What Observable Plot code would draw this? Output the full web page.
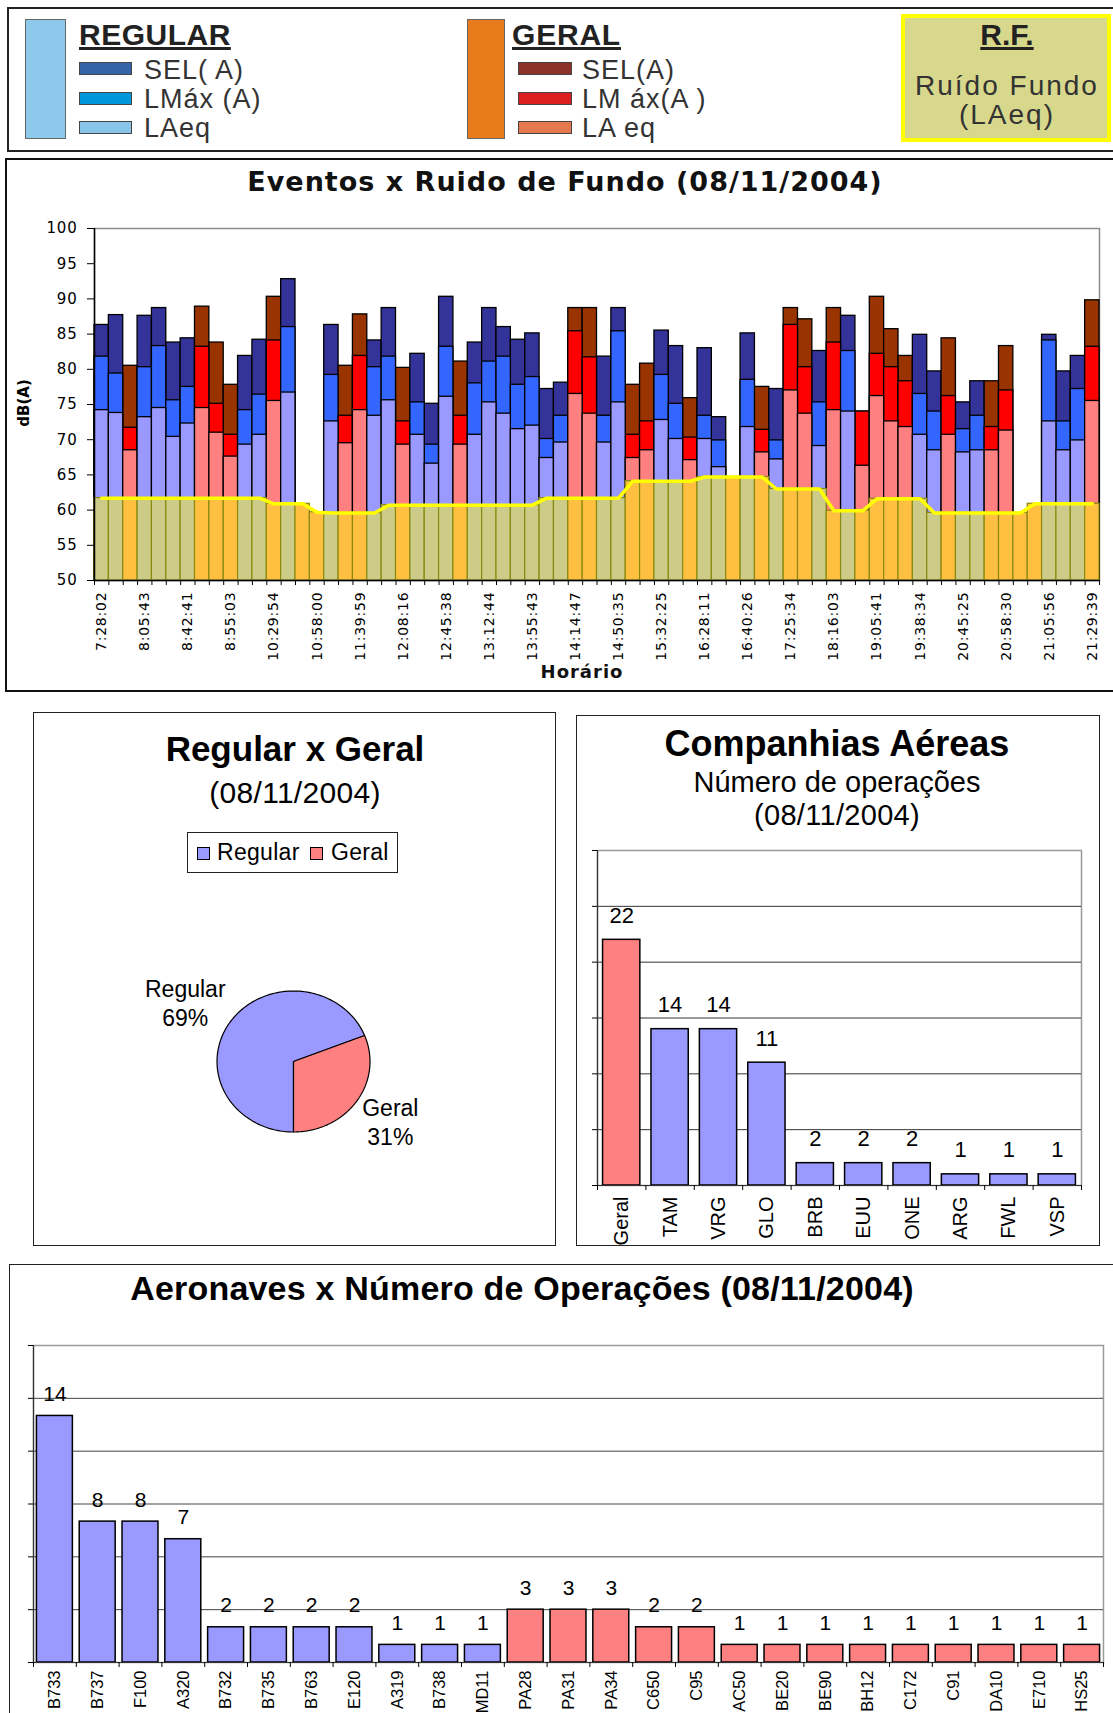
<!DOCTYPE html>
<html><head><meta charset="utf-8">
<script src="https://cdn.jsdelivr.net/npm/d3@7"></script>
<script src="https://cdn.jsdelivr.net/npm/@observablehq/plot@0.6"></script>
<style>
html,body{margin:0;padding:0;background:#fff;width:1113px;height:1713px;overflow:hidden;}
body{position:relative;font-family:"Liberation Sans",Arial,sans-serif;}
.holder{position:absolute;}
.holder svg{max-width:none !important;}
</style></head><body>
<script>
// ---------------- DATA ----------------
// Eventos x Ruido de Fundo (70 eventos; R = Regular, G = Geral)
const eventType = ["R","R","G","R","R","R","R","G","G","G","R","R","G","R","G","G","R","G","G","R",
                   "R","G","R","R","R","G","R","R","R","R","R","R","R","G","G","R","R","G","G","R",
                   "R","G","R","R","G","R","G","R","G","G","R","G","R","G","G","G","G","R","R","G",
                   "R","R","G","G","G","G","R","R","R","G"];
const selA  = [86.3,87.7,80.5,87.6,88.7,83.8,84.4,88.9,83.8,77.8,81.9,84.2,90.3,92.8,null,null,86.3,80.5,87.8,84.1,
               88.7,80.2,82.2,75.1,90.3,81.1,83.8,88.7,86.0,84.2,85.1,77.2,78.1,88.7,88.7,81.8,88.7,77.8,80.8,85.5,
               83.3,75.9,83.0,73.2,null,85.1,77.5,77.2,88.7,87.1,82.6,88.7,87.6,74.0,90.3,85.7,81.9,84.9,79.7,84.4,
               75.3,78.3,78.3,83.3,null,null,84.9,79.7,81.9,89.8];
const lmaxA = [81.8,79.4,71.7,80.3,83.3,75.6,77.5,83.2,75.1,70.7,74.2,76.4,84.1,86.0,null,null,79.2,73.4,81.9,80.3,
               81.8,72.6,75.3,69.3,83.2,73.4,78.0,81.1,81.8,77.8,78.9,70.1,73.4,85.4,81.7,73.4,85.4,70.7,72.6,79.2,
               75.1,70.3,73.4,69.9,null,78.5,71.4,69.9,86.3,80.3,75.3,83.8,82.6,74.0,82.2,80.3,78.3,76.5,74.0,76.2,
               71.5,73.4,71.8,77.0,null,null,84.1,72.6,77.2,83.2];
const laeqA = [74.2,73.8,68.5,73.2,74.5,70.4,72.3,74.5,71.0,67.6,69.3,70.7,75.5,76.7,null,null,72.6,69.5,74.2,73.4,
               75.6,69.3,70.7,66.6,76.1,69.3,70.7,75.3,73.7,71.5,72.0,67.4,69.6,76.5,73.7,69.6,75.3,67.4,68.5,72.8,
               70.1,67.1,70.1,66.1,null,71.8,68.2,67.2,77.0,73.7,69.1,74.2,74.0,66.3,76.2,72.6,71.8,70.7,68.5,70.7,
               68.2,68.5,68.5,71.3,null,null,72.6,68.5,69.9,75.5];
const ruidoFundo = [61.7,61.7,61.7,61.7,61.7,61.7,61.7,61.7,61.7,61.7,61.7,61.7,60.9,60.9,60.9,59.7,59.6,59.6,59.6,59.6,
                    60.7,60.7,60.7,60.7,60.7,60.7,60.7,60.7,60.7,60.7,60.7,61.7,61.7,61.7,61.7,61.7,61.7,64.1,64.1,64.1,
                    64.1,64.1,64.7,64.7,64.7,64.7,64.7,63.0,63.0,63.0,63.0,59.9,59.9,59.9,61.6,61.6,61.6,61.6,59.6,59.6,
                    59.6,59.6,59.6,59.6,59.6,60.9,60.9,60.9,60.9,60.9];
const horarioLabels = ["7:28:02","8:05:43","8:42:41","8:55:03","10:29:54","10:58:00","11:39:59","12:08:16",
                       "12:45:38","13:12:44","13:55:43","14:14:47","14:50:35","15:32:25","16:28:11","16:40:26",
                       "17:25:34","18:16:03","19:05:41","19:38:34","20:45:25","20:58:30","21:05:56","21:29:39"];
const yTicksMain = [50,55,60,65,70,75,80,85,90,95,100];

// Regular x Geral
const pieLabels = ["Regular","Geral"];
const pieValues = [69,31];

// Companhias Aéreas
const companhias = ["Geral","TAM","VRG","GLO","BRB","EUU","ONE","ARG","FWL","VSP"];
const companhiasOps = [22,14,14,11,2,2,2,1,1,1];
const companhiasTipo = ["Geral","Regular","Regular","Regular","Regular","Regular","Regular","Regular","Regular","Regular"];
const compGrid = [5,10,15,20,25];

// Aeronaves
const aeronaves = ["B733","B737","F100","A320","B732","B735","B763","E120","A319","B738","MD11","PA28","PA31","PA34",
                   "C650","C95","AC50","BE20","BE90","BH12","C172","C91","DA10","E710","HS25"];
const aeronavesOps = [14,8,8,7,2,2,2,2,1,1,1,3,3,3,2,2,1,1,1,1,1,1,1,1,1];
const aeronavesTipo = ["Regular","Regular","Regular","Regular","Regular","Regular","Regular","Regular","Regular","Regular","Regular",
                       "Geral","Geral","Geral","Geral","Geral","Geral","Geral","Geral","Geral","Geral","Geral","Geral","Geral","Geral"];
const aeroGrid = [3,6,9,12,15];

// ---------------- STYLE ----------------
const colReg = {sel:"#333399", lmax:"#3366ff", laeq:"#9999ff", bg:"#cccc88"};
const colGer = {sel:"#993300", lmax:"#ff0000", laeq:"#ff8080", bg:"#ffbf40"};
const LIB = '"Liberation Sans", Arial, sans-serif';
const DJV = '"DejaVu Sans", Verdana, sans-serif';

// ---------------- HELPERS ----------------
function box(left, top, w, h, css) {
  const d = document.createElement("div");
  Object.assign(d.style, {position:"absolute", left:left+"px", top:top+"px", width:w+"px", height:h+"px", boxSizing:"border-box"}, css||{});
  document.body.appendChild(d);
  return d;
}
function txt(s, o) {
  const d = document.createElement("div");
  d.textContent = s;
  const size = o.size;
  Object.assign(d.style, {
    position:"absolute", whiteSpace:"pre", lineHeight:"1", fontSize:size+"px",
    fontFamily:o.family||LIB, fontWeight:o.weight||"normal", letterSpacing:(o.ls||0)+"px",
    color:o.color||"#000", top:(o.y - 0.846*size)+"px"
  });
  if (o.underline) { d.style.textDecoration = "underline"; d.style.textDecorationThickness = (o.ut||2)+"px"; d.style.textUnderlineOffset = "2px"; }
  if (o.cx != null) { d.style.left = (o.cx - 500)+"px"; d.style.width = "1000px"; d.style.textAlign = "center"; }
  else d.style.left = o.x+"px";
  document.body.appendChild(d);
  return d;
}
function holder(left, top, node) {
  const d = document.createElement("div");
  d.className = "holder";
  d.style.left = left+"px"; d.style.top = top+"px";
  d.appendChild(node);
  document.body.appendChild(d);
}

// ---------------- LEGEND PANEL ----------------
box(7, 7, 1130, 145, {border:"2px solid #222"});
box(25, 19, 41, 120, {background:"#8cc9ea", border:"1px solid #666"});
txt("REGULAR", {x:79, y:45, size:30, weight:"bold", underline:true, ut:2.5, ls:0.5, color:"#222"});
const regItems = [["SEL( A)","#3464aa"],["LMáx (A)","#0096dc"],["LAeq","#88c4e8"]];
const gerItems = [["SEL(A)","#8c3228"],["LM áx(A )","#dc1e1e"],["LA eq","#e67850"]];
const rowY = [62, 92, 121], rowBase = [80, 109, 138];
regItems.forEach(([t,c],k) => { box(79, rowY[k], 53, 13, {background:c, border:"1px solid #444"}); txt(t, {x:144, y:rowBase[k], size:27, ls:1, color:"#333"}); });
box(467, 19, 38, 120, {background:"#e87c1c", border:"1px solid #666"});
txt("GERAL", {x:512, y:45, size:30, weight:"bold", underline:true, ut:2.5, ls:0.8, color:"#222"});
gerItems.forEach(([t,c],k) => { box(518, rowY[k], 54, 13, {background:c, border:"1px solid #444"}); txt(t, {x:582, y:rowBase[k], size:27, ls:1, color:"#333"}); });
box(901, 14, 210, 128, {background:"#d8d88c", border:"4px solid #ffff00"});
txt("R.F.", {cx:1007, y:45, size:30, weight:"bold", underline:true, ut:2.5, color:"#222"});
txt("Ruído Fundo", {cx:1007, y:96, size:28, ls:2, color:"#333"});
txt("(LAeq)", {cx:1007, y:125, size:28, ls:2, color:"#333"});

// ---------------- MAIN PANEL ----------------
box(5, 158, 1130, 534, {border:"2px solid #111"});
txt("Eventos x Ruido de Fundo (08/11/2004)", {cx:565, y:191, size:27, weight:"bold", family:DJV, ls:1, color:"#111"});
const yl = txt("dB(A)", {x:0, y:0, size:15, weight:"bold", family:DJV});
Object.assign(yl.style, {left:"24px", top:"403px", transform:"translate(-50%,-50%) rotate(-90deg)"});
txt("Horário", {cx:582, y:678, size:18, weight:"bold", family:DJV, ls:1, color:"#111"});

const idx = d3.range(eventType.length);
const events = idx.filter(i => selA[i] != null).map(i => ({i, t:eventType[i], sel:selA[i], lmax:lmaxA[i], laeq:laeqA[i]}));
const rf = idx.map(i => ({i, t:eventType[i], v:ruidoFundo[i]}));
const pal = t => t === "R" ? colReg : colGer;

const mainChart = Plot.plot({
  width:1113, height:490, marginLeft:94, marginRight:14, marginTop:23, marginBottom:115,
  x:{domain:[0, idx.length], axis:null, label:null},
  y:{domain:[50,100], axis:null, label:null},
  color:{type:"identity"},
  style:{background:"transparent", overflow:"visible", fontFamily:DJV, letterSpacing:"0.8px", color:"#000"},
  marks:[
    Plot.frame({stroke:"#8c8c8c", strokeWidth:1.5}),
    Plot.rect(events, {x1:"i", x2:d=>d.i+1, y1:()=>50, y2:"sel", fill:d=>pal(d.t).sel, stroke:"#000", strokeWidth:1.3}),
    Plot.rect(events, {x1:"i", x2:d=>d.i+1, y1:()=>50, y2:"lmax", fill:d=>pal(d.t).lmax, stroke:"#000", strokeWidth:1.3}),
    Plot.rect(events, {x1:"i", x2:d=>d.i+1, y1:()=>50, y2:"laeq", fill:d=>pal(d.t).laeq, stroke:"#000", strokeWidth:1.3}),
    Plot.rect(rf, {x1:"i", x2:d=>d.i+1, y1:()=>50, y2:"v", fill:d=>pal(d.t).bg, stroke:"#8a8a10", strokeWidth:1.2}),
    Plot.line(rf, {x:d=>d.i+0.5, y:"v", stroke:"#ffff00", strokeWidth:3.5, curve:"linear"}),
    Plot.ruleX([0], {stroke:"#000", strokeWidth:1.5}),
    Plot.ruleY([50], {stroke:"#000", strokeWidth:1.5}),
    Plot.axisY({ticks:yTicksMain, tickSize:7, tickPadding:10, fontSize:15, label:null}),
    Plot.axisX({ticks:d3.range(0, idx.length+1), tickSize:5, tickFormat:()=>"", label:null}),
    Plot.axisX({ticks:horarioLabels.map((_,k)=>3*k+0.5), tickFormat:d=>horarioLabels[Math.round((d-0.5)/3)],
                tickRotate:-90, tickSize:0, tickPadding:11, fontSize:14, label:null})
  ]
});
holder(0, 205, mainChart);

// ---------------- PIE PANEL ----------------
box(33, 712, 523, 534, {border:"1.5px solid #222"});
txt("Regular x Geral", {cx:295, y:761, size:35, weight:"bold"});
txt("(08/11/2004)", {cx:295, y:803, size:30, ls:0.3});
box(187, 832, 211, 41, {border:"1px solid #222"});
box(197, 847, 13, 13, {background:"#9999ff", border:"1px solid #000"});
txt("Regular", {x:217, y:860, size:23, ls:0.3});
box(310, 847, 13, 13, {background:"#ff8080", border:"1px solid #000"});
txt("Geral", {x:331, y:860, size:23, ls:0.3});

const pieArcs = d3.pie().sort(null).startAngle(Math.PI).endAngle(3*Math.PI)(pieValues);
const slices = pieArcs.map(a => {
  const pts = [{x:0, y:0}];
  const n = 120;
  for (let j = 0; j <= n; j++) { const t = a.startAngle + (a.endAngle - a.startAngle)*j/n; pts.push({x:Math.sin(t), y:Math.cos(t)}); }
  pts.push({x:0, y:0});
  return pts;
});
const pieCols = ["#9999ff","#ff8080"];
const PXU = 76.5; // pixels per unit (x)
const midA = a => (a.startAngle + a.endAngle)/2;
const pieChart = Plot.plot({
  width:340, height:260, margin:0,
  x:{domain:[-170/PXU, 170/PXU], axis:null},
  y:{domain:[-130/70.5, 130/70.5], axis:null},
  style:{background:"transparent", overflow:"visible", fontFamily:LIB, color:"#000"},
  marks:[
    ...slices.map((s,k) => Plot.line(s, {x:"x", y:"y", fill:pieCols[k], stroke:"#000", strokeWidth:1.2, strokeLinejoin:"miter"})),
    Plot.text(pieArcs, {
      x:a => 1.08*Math.sin(midA(a)) + Math.sign(Math.sin(midA(a))) * (pieLabels[a.index].length*5.7)/PXU,
      y:a => 1.5*Math.cos(midA(a)),
      text:a => pieLabels[a.index] + "\n" + pieValues[a.index] + "%",
      fontSize:23, lineHeight:1.26, fill:"#000"
    })
  ]
});
holder(123, 931, pieChart);

// ---------------- COMPANHIAS PANEL ----------------
box(576, 715, 524, 531, {border:"1.5px solid #222"});
txt("Companhias Aéreas", {cx:837, y:756, size:36, weight:"bold"});
txt("Número de operações", {cx:837, y:793, size:29});
txt("(08/11/2004)", {cx:837, y:826, size:29, ls:0.3});
const comp = companhias.map((c,i) => ({i, c, v:companhiasOps[i], t:companhiasTipo[i]}));
const compChart = Plot.plot({
  width:520, height:446, marginLeft:21, marginRight:15, marginTop:50, marginBottom:61,
  x:{domain:[0, comp.length], axis:null, label:null},
  y:{domain:[0,30], axis:null, label:null},
  color:{type:"identity"},
  style:{background:"transparent", overflow:"visible", fontFamily:LIB, color:"#000"},
  marks:[
    Plot.frame({stroke:"#9a9a9a", strokeWidth:1.5}),
    Plot.ruleY(compGrid, {stroke:"#333", strokeWidth:1}),
    Plot.rect(comp, {x1:d=>d.i+0.115, x2:d=>d.i+0.885, y1:()=>0, y2:"v", fill:d=>d.t==="Geral"?"#ff8080":"#9999ff", stroke:"#000", strokeWidth:1.5}),
    Plot.ruleX([0], {stroke:"#333", strokeWidth:1.2}),
    Plot.ruleY([0], {stroke:"#333", strokeWidth:1.2}),
    Plot.axisY({ticks:[0,...compGrid,30], tickSize:5, tickFormat:()=>"", label:null}),
    Plot.axisX({ticks:d3.range(0, comp.length+1), tickSize:5, tickFormat:()=>"", label:null}),
    Plot.axisX({ticks:comp.map(d=>d.i+0.5), tickFormat:d=>companhias[Math.floor(d)], tickRotate:-90, tickSize:0, tickPadding:11, fontSize:20, label:null}),
    Plot.text(comp, {x:d=>d.i+0.5, y:"v", text:d=>String(d.v), dy:-17, lineAnchor:"bottom", fontSize:22, fill:"#000"})
  ]
});
holder(576, 800, compChart);

// ---------------- AERONAVES PANEL ----------------
box(9, 1264, 1130, 470, {border:"1.5px solid #222"});
txt("Aeronaves x Número de Operações (08/11/2004)", {cx:522, y:1300, size:34, weight:"bold", ls:0.2});
const aero = aeronaves.map((c,i) => ({i, c, v:aeronavesOps[i], t:aeronavesTipo[i]}));
const aeroChart = Plot.plot({
  width:1104, height:403, marginLeft:24, marginRight:10, marginTop:35, marginBottom:51,
  x:{domain:[0, aero.length], axis:null, label:null},
  y:{domain:[0,18], axis:null, label:null},
  color:{type:"identity"},
  style:{background:"transparent", overflow:"visible", fontFamily:LIB, color:"#000"},
  marks:[
    Plot.frame({stroke:"#9a9a9a", strokeWidth:1.5}),
    Plot.ruleY(aeroGrid, {stroke:"#444", strokeWidth:1}),
    Plot.rect(aero, {x1:d=>d.i+0.08, x2:d=>d.i+0.92, y1:()=>0, y2:"v", fill:d=>d.t==="Geral"?"#ff8080":"#9999ff", stroke:"#000", strokeWidth:1.5}),
    Plot.ruleX([0], {stroke:"#333", strokeWidth:1.2}),
    Plot.ruleY([0], {stroke:"#333", strokeWidth:1.2}),
    Plot.axisY({ticks:[0,...aeroGrid,18], tickSize:5, tickFormat:()=>"", label:null}),
    Plot.axisX({ticks:d3.range(0, aero.length+1), tickSize:5, tickFormat:()=>"", label:null}),
    Plot.axisX({ticks:aero.map(d=>d.i+0.5), tickFormat:d=>aeronaves[Math.floor(d)], tickRotate:-90, tickSize:0, tickPadding:8, fontSize:16.5, label:null}),
    Plot.text(aero, {x:d=>d.i+0.5, y:"v", text:d=>String(d.v), dy:-15, lineAnchor:"bottom", fontSize:21, fill:"#000"})
  ]
});
holder(9, 1310, aeroChart);
</script>
</body></html>
